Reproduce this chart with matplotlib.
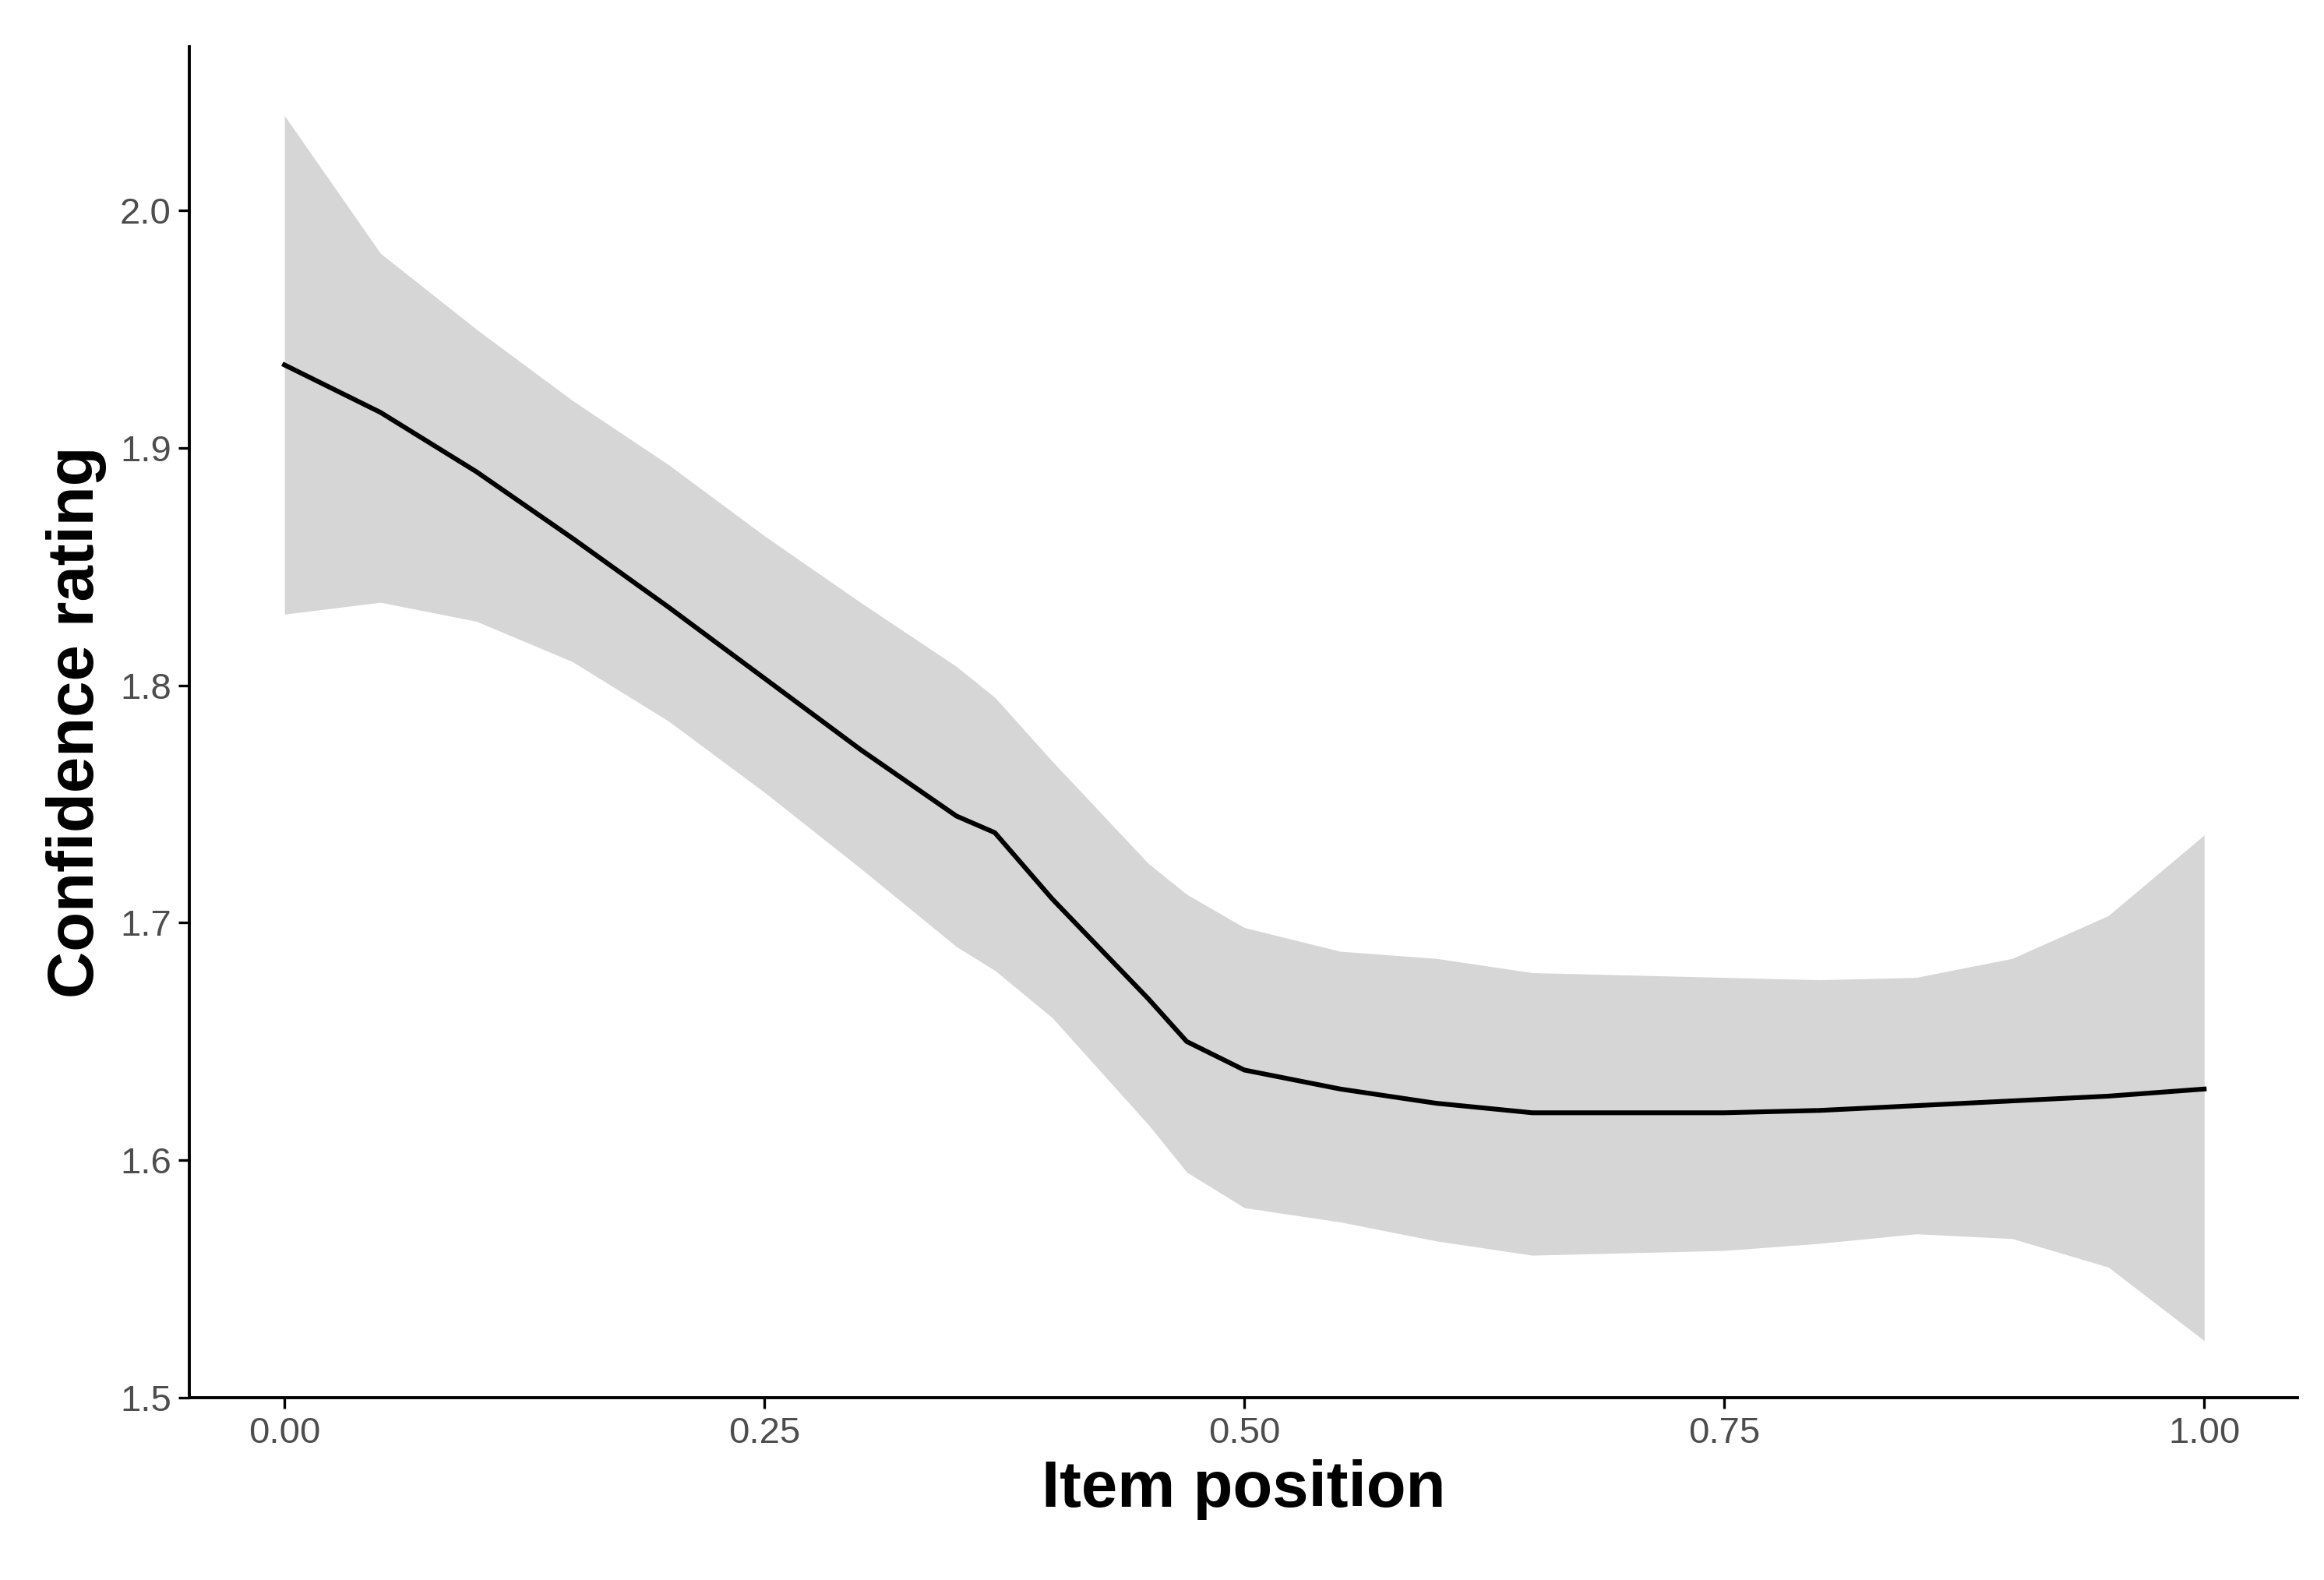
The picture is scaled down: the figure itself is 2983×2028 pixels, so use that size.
import matplotlib
matplotlib.use('Agg')
import matplotlib.pyplot as plt
import numpy as np

# smoothed fit
item_pos = [0.0, 0.05, 0.10, 0.15, 0.20, 0.25, 0.30, 0.35, 0.37, 0.40, 0.45, 0.47,
            0.50, 0.55, 0.60, 0.65, 0.70, 0.75, 0.80, 0.85, 0.90, 0.95, 1.00]
fit = [1.935, 1.915, 1.890, 1.862, 1.833, 1.803, 1.773, 1.745, 1.738, 1.710, 1.668, 1.650,
       1.638, 1.630, 1.624, 1.620, 1.620, 1.620, 1.621, 1.623, 1.625, 1.627, 1.630]
lower = [1.830, 1.835, 1.827, 1.810, 1.785, 1.755, 1.723, 1.690, 1.680, 1.660, 1.615, 1.595,
         1.580, 1.574, 1.566, 1.560, 1.561, 1.562, 1.565, 1.569, 1.567, 1.555, 1.524]
upper = [2.040, 1.982, 1.950, 1.920, 1.893, 1.863, 1.835, 1.808, 1.795, 1.768, 1.725, 1.712,
         1.698, 1.688, 1.685, 1.679, 1.678, 1.677, 1.676, 1.677, 1.685, 1.703, 1.737]
x_ticks = [0.0, 0.25, 0.5, 0.75, 1.0]
y_ticks = [1.5, 1.6, 1.7, 1.8, 1.9, 2.0]

plt.rcParams['font.family'] = ['Liberation Sans', 'DejaVu Sans']

fig = plt.figure(figsize=(14.915, 10.14), dpi=200)
ax = fig.add_axes([0.0816, 0.1154, 0.907, 0.855])

ax.fill_between(item_pos, lower, upper, color='#d6d6d6', linewidth=0)
ax.plot(item_pos, fit, color='black', linewidth=2.2)

ax.set_xlim(-0.0494, 1.0486)
ax.set_ylim(1.5, 2.069)
ax.set_xticks(x_ticks)
ax.set_xticklabels([f'{v:.2f}' for v in x_ticks])
ax.set_yticks(y_ticks)
ax.set_yticklabels([f'{v:.1f}' for v in y_ticks])
ax.tick_params(labelsize=17, labelcolor='#4d4d4d', length=5, width=1.2)

for s in ['top', 'right']:
    ax.spines[s].set_visible(False)
for s in ['left', 'bottom']:
    ax.spines[s].set_linewidth(1.4)

ax.set_xlabel('Item position', fontsize=30, fontweight='bold', labelpad=4)
ax.set_ylabel('Confidence rating', fontsize=30, fontweight='bold', labelpad=6)

fig.savefig('out.png', dpi=200)
